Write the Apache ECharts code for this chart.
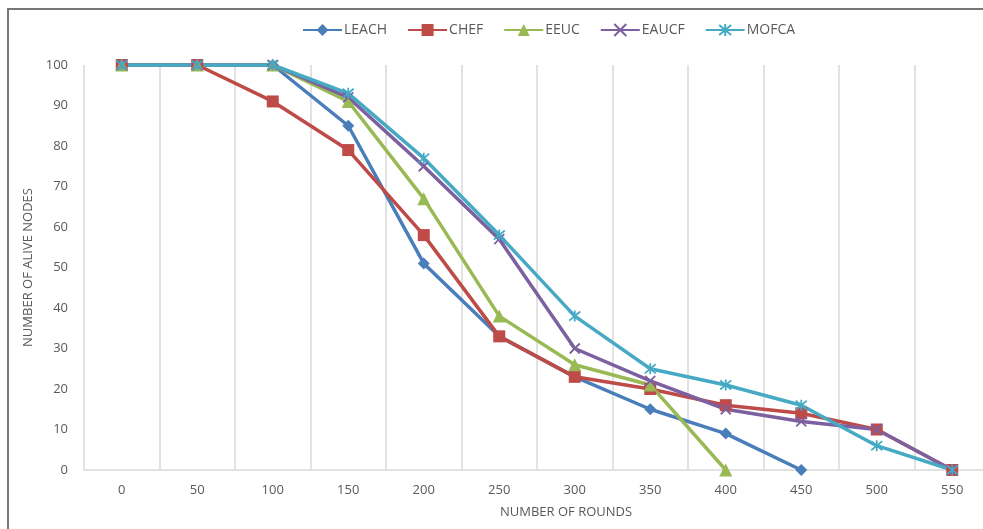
<!DOCTYPE html>
<html>
<head>
<meta charset="utf-8">
<script src="https://cdn.jsdelivr.net/npm/echarts@6/dist/echarts.min.js"></script>
<style>
  html, body { margin: 0; padding: 0; background: #fff; overflow: hidden; }
  #chart { width: 1000px; height: 529px; }
</style>
</head>
<body>
<div id="chart"></div>
<script>
// Rounds on the horizontal axis
const rounds = ['0', '50', '100', '150', '200', '250', '300', '350', '400', '450', '500', '550'];

// Alive nodes per protocol
const leach = [100, 100, 100, 85, 51, 33, 23, 15, 9, 0];
const chef  = [100, 100, 91, 79, 58, 33, 23, 20, 16, 14, 10, 0];
const eeuc  = [100, 100, 100, 91, 67, 38, 26, 21, 0];
const eaucf = [100, 100, 100, 92, 75, 57, 30, 22, 15, 12, 10, 0];
const mofca = [100, 100, 100, 93, 77, 58, 38, 25, 21, 16, 6, 0];

const yTicks = { min: 0, max: 100, interval: 10 };

const FONT = '"Open Sans", "Liberation Sans", sans-serif';
const LABEL = '#595959';

const crossPath = 'path://M0,0L10,10M10,0L0,10';
const starPath = 'path://M0,0L10,10M10,0L0,10M5,-1L5,11';

function makeSeries(name, data, color, symbol, size, strokeOnly) {
  return {
    name: name,
    type: 'line',
    data: data,
    symbol: symbol,
    symbolSize: size,
    showSymbol: true,
    lineStyle: { color: color, width: 3.5 },
    itemStyle: strokeOnly
      ? { color: color, borderColor: color, borderWidth: 1.8 }
      : { color: color, borderWidth: 0 },
    emphasis: { disabled: true },
    z: 2
  };
}

const chart = echarts.init(document.getElementById('chart'), null, { renderer: 'canvas' });

chart.setOption({
  animation: false,
  backgroundColor: '#ffffff',
  textStyle: { fontFamily: FONT },
  graphic: [
    {
      type: 'rect',
      shape: { x: 8, y: 9, width: 1100, height: 700 },
      style: { fill: 'none', stroke: '#767676', lineWidth: 2 },
      silent: true,
      z: 0
    },
    {
      type: 'text',
      left: 500,
      top: 506,
      style: { text: 'NUMBER OF ROUNDS', fill: LABEL, font: '13px ' + FONT }
    }
  ],
  legend: {
    top: 18,
    left: 297,
    itemWidth: 39,
    itemHeight: 15,
    itemGap: 20,
    textStyle: { color: LABEL, fontSize: 14, fontFamily: FONT, padding: [0, 0, 0, -3] },
    data: ['LEACH', 'CHEF', 'EEUC', 'EAUCF', 'MOFCA']
  },
  grid: { left: 84, top: 65, width: 906, height: 405, containLabel: false },
  xAxis: {
    type: 'category',
    data: rounds,
    boundaryGap: true,
    axisLine: { show: true, lineStyle: { color: '#d9d9d9', width: 1.5 } },
    axisTick: { show: false },
    splitLine: { show: true, lineStyle: { color: '#d9d9d9', width: 1.5 } },
    axisLabel: { color: LABEL, fontSize: 13, fontFamily: FONT, margin: 14 }
  },
  yAxis: {
    type: 'value',
    min: yTicks.min,
    max: yTicks.max,
    interval: yTicks.interval,
    axisLine: { show: false },
    axisTick: { show: false },
    splitLine: { show: false },
    axisLabel: { color: LABEL, fontSize: 13, fontFamily: FONT, margin: 16 },
    name: 'NUMBER OF ALIVE NODES',
    nameLocation: 'middle',
    nameGap: 47,
    nameTextStyle: { color: LABEL, fontSize: 13, fontFamily: FONT }
  },
  series: [
    makeSeries('LEACH', leach, '#4A7EBB', 'diamond', 12, false),
    makeSeries('CHEF', chef, '#BE4B48', 'rect', 12, false),
    makeSeries('EEUC', eeuc, '#98B954', 'triangle', 13, false),
    makeSeries('EAUCF', eaucf, '#7D60A0', crossPath, 10, true),
    makeSeries('MOFCA', mofca, '#46AAC5', starPath, 11, true)
  ]
});
</script>
</body>
</html>
